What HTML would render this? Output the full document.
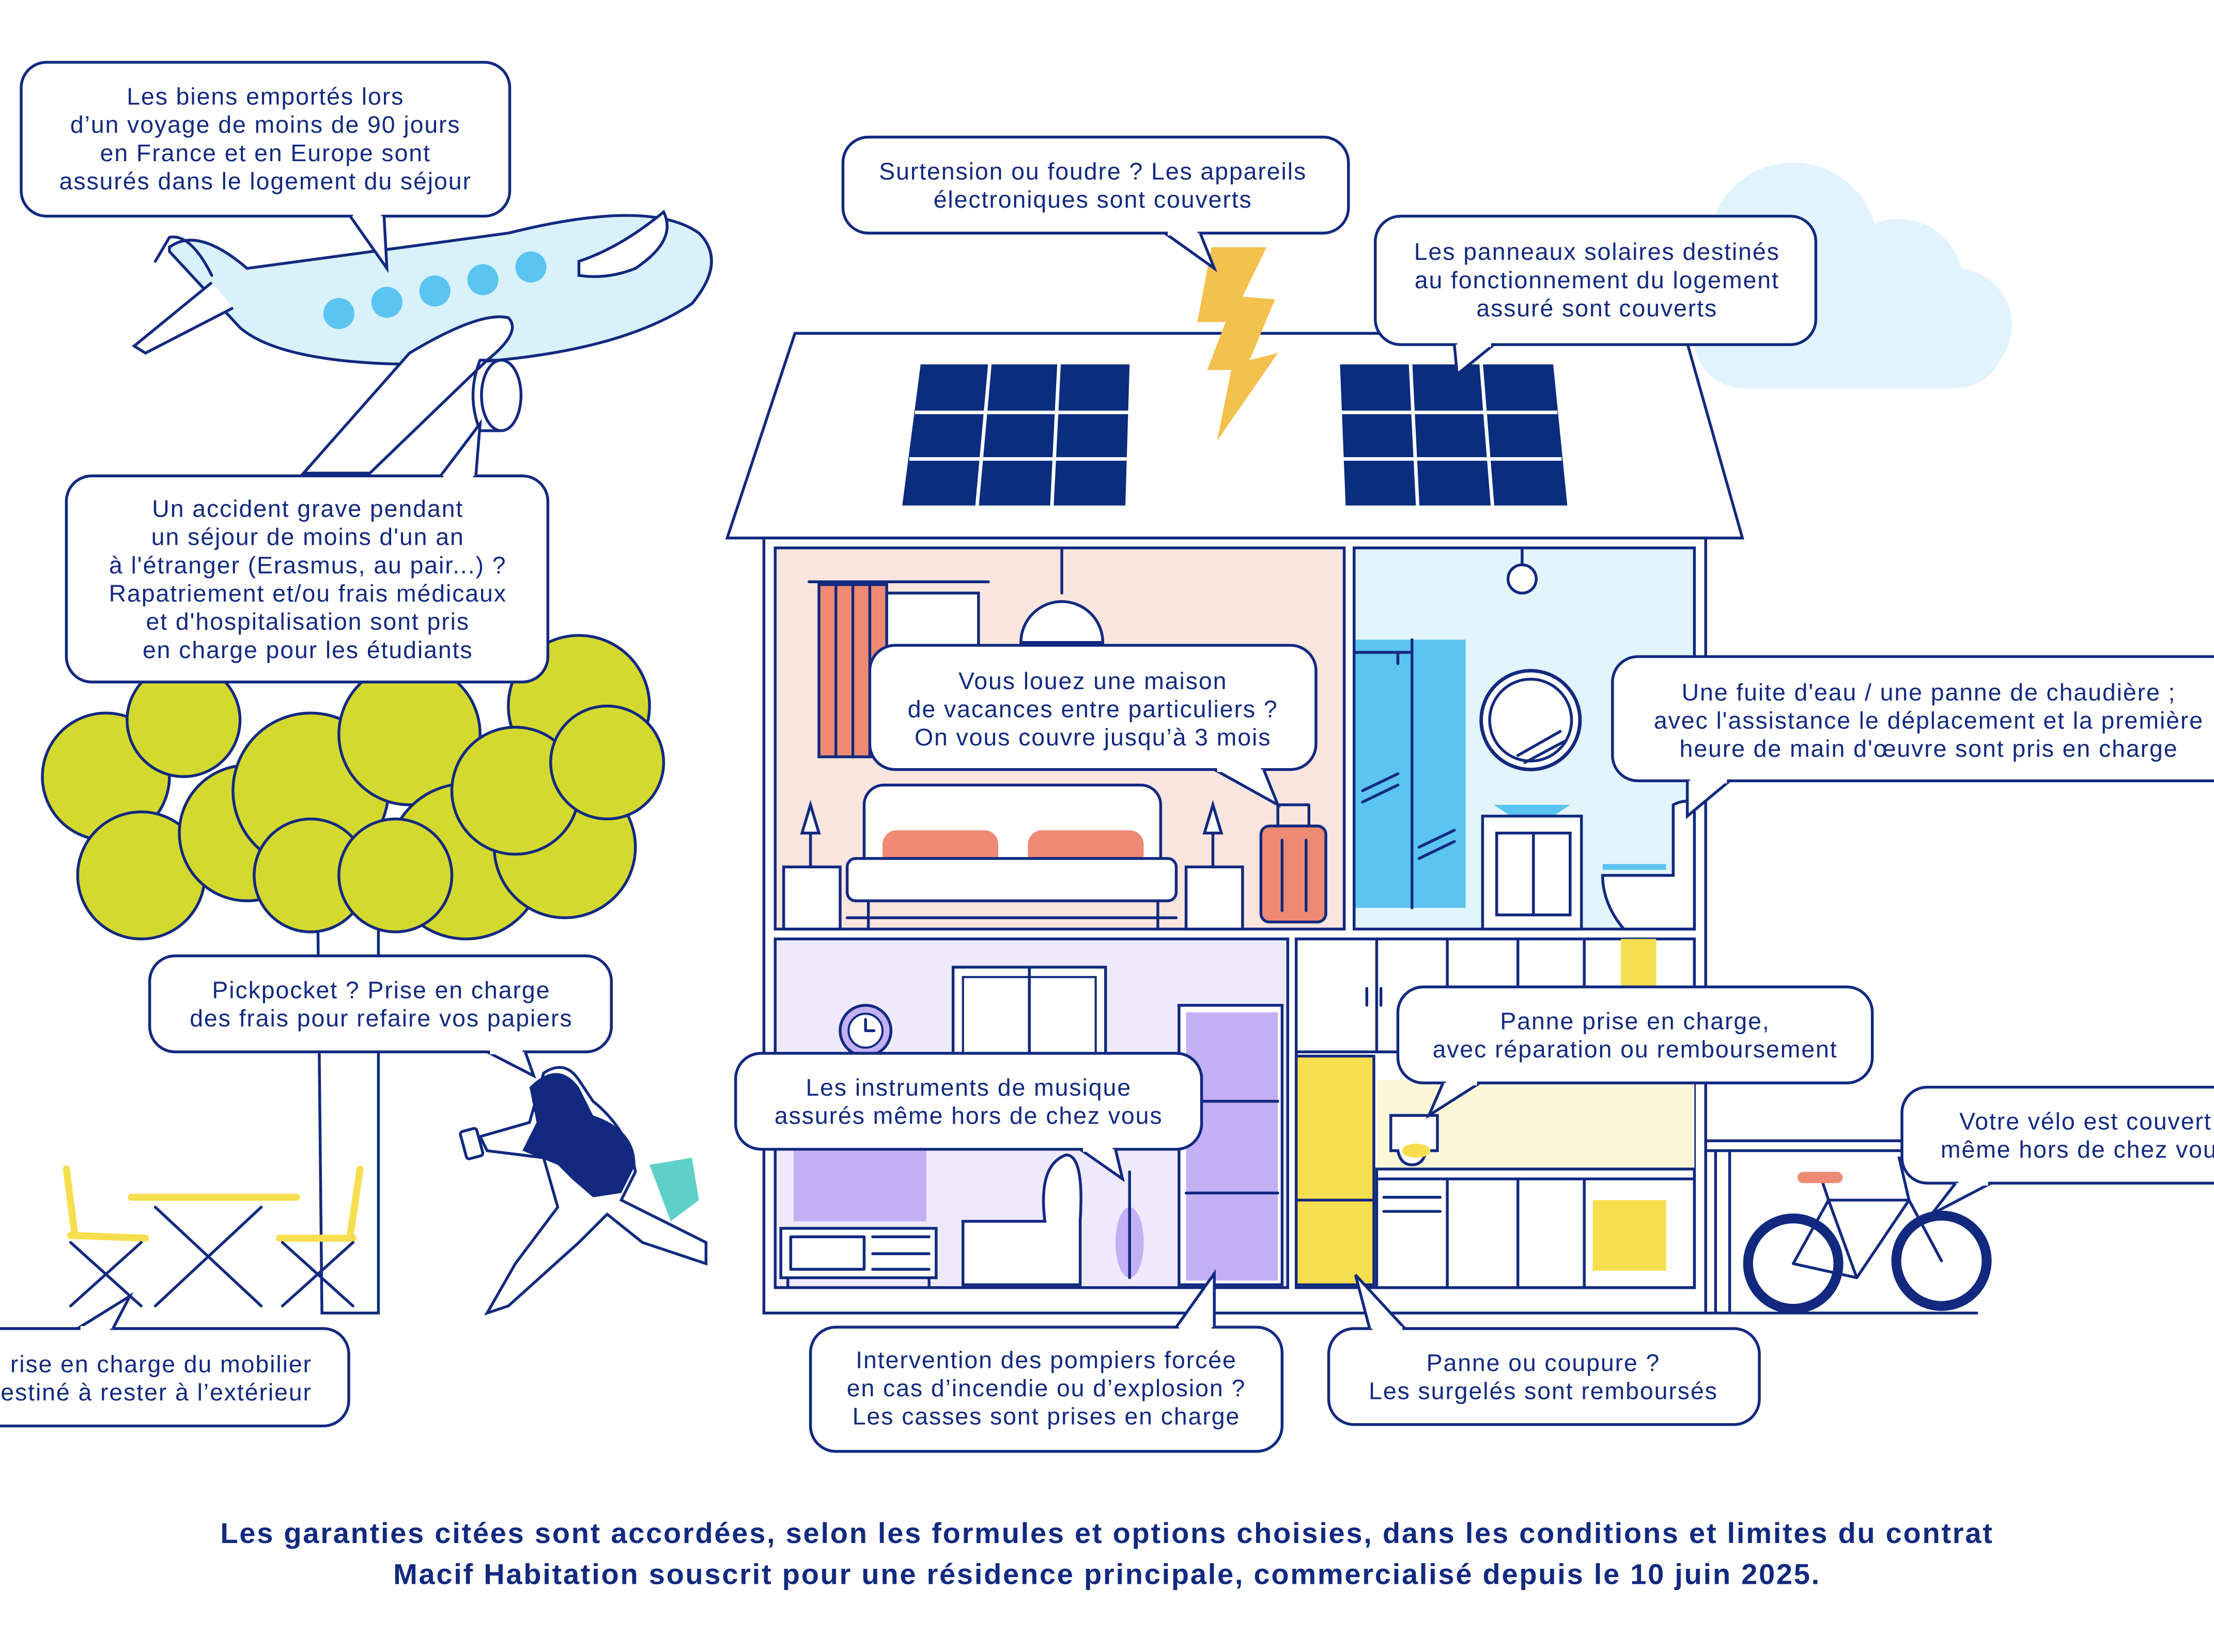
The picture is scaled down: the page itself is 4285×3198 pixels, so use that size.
<!DOCTYPE html>
<html><head><meta charset="utf-8"><style>
html,body{margin:0;padding:0;background:#fff;overflow:hidden}
svg{display:block}
text{font-family:"Liberation Sans",sans-serif;fill:#12297f;font-size:17px;letter-spacing:0.7px}
.b{fill:#fff;stroke:#12297f;stroke-width:2}
.s{fill:none;stroke:#12297f;stroke-width:2;stroke-linejoin:round;stroke-linecap:round}
.w{stroke:#fff;stroke-width:3.5}
</style></head><body>
<svg width="4285" height="3198" viewBox="0 0 1568 1170" xmlns="http://www.w3.org/2000/svg">
<rect width="1568" height="1170" fill="#fff"/>

<g fill="#e1f3fc">
<circle cx="1270" cy="175" r="60"/><circle cx="1345" cy="200" r="45"/><circle cx="1385" cy="230" r="40"/>
<circle cx="1240" cy="235" r="40"/><rect x="1200" y="200" width="220" height="75" rx="35"/>
</g>

<g>
<path d="M120,175 Q140,160 175,190 L360,165 Q460,140 495,165 Q515,185 490,215 Q430,255 300,258 Q200,258 170,232 L120,178 Z" fill="#d9f1fb" stroke="#12297f" stroke-width="2"/>
<path d="M110,185 L120,168 Q135,165 150,195" class="s"/>
<path d="M150,200 L95,245 L103,250 L165,218" fill="#fff" stroke="#12297f" stroke-width="2"/>
<path d="M410,185 Q440,175 470,150 Q480,170 450,190 Q430,198 410,195Z" fill="#fff" stroke="#12297f" stroke-width="2"/>
<path d="M290,250 L215,335 L262,335 L345,255 Q370,235 360,225 Q340,220 290,250Z" fill="#fff" stroke="#12297f" stroke-width="2"/>
<ellipse cx="355" cy="280" rx="14" ry="25" fill="#fff" stroke="#12297f" stroke-width="2"/>
<path d="M355,255 L340,255 Q330,280 340,305 L355,305" class="s"/>
<g fill="#5bc4f1"><circle cx="240" cy="222" r="11"/><circle cx="274" cy="214" r="11"/><circle cx="308" cy="206" r="11"/><circle cx="342" cy="198" r="11"/><circle cx="376" cy="189" r="11"/></g>
</g>

<rect class="b" x="15" y="44" width="346" height="109" rx="18"/>
<path class="b" d="M248,153 L274,190 L272,153"/><line class="w" x1="250" y1="153" x2="270" y2="153"/>
<text text-anchor="middle"><tspan x="188" y="74">Les biens emportés lors</tspan><tspan x="188" y="94">d’un voyage de moins de 90 jours</tspan><tspan x="188" y="114">en France et en Europe sont</tspan><tspan x="188" y="134">assurés dans le logement du séjour</tspan></text>

<path d="M225,640 L228,930 L268,930 L268,640 L300,600 L270,600 L248,630 L215,600 L190,600Z" fill="#fff" stroke="#12297f" stroke-width="2"/>
<g fill="#d4d92f" stroke="#12297f" stroke-width="2">
<circle cx="75" cy="550" r="45"/><circle cx="130" cy="510" r="40"/><circle cx="100" cy="620" r="45"/><circle cx="175" cy="590" r="48"/>
<circle cx="220" cy="560" r="55"/><circle cx="290" cy="520" r="50"/><circle cx="330" cy="610" r="55"/><circle cx="400" cy="600" r="50"/>
<circle cx="410" cy="500" r="50"/><circle cx="365" cy="560" r="45"/><circle cx="220" cy="620" r="40"/><circle cx="280" cy="620" r="40"/>
<circle cx="430" cy="540" r="40"/>
</g>

<rect class="b" x="47" y="337" width="341" height="146" rx="18"/>
<path class="b" d="M312,337 L340,300 L337,337"/><line class="w" x1="314" y1="337" x2="335" y2="337"/>
<text text-anchor="middle"><tspan x="218" y="366">Un accident grave pendant</tspan><tspan x="218" y="386">un séjour de moins d'un an</tspan><tspan x="218" y="406">à l'étranger (Erasmus, au pair...) ?</tspan><tspan x="218" y="426">Rapatriement et/ou frais médicaux</tspan><tspan x="218" y="446">et d'hospitalisation sont pris</tspan><tspan x="218" y="466">en charge pour les étudiants</tspan></text>

<g stroke="#f6df4f" stroke-width="5" stroke-linecap="round"><line x1="47" y1="828" x2="53" y2="875"/><line x1="50" y1="875" x2="103" y2="877"/><line x1="93" y1="848" x2="210" y2="848"/><line x1="255" y1="828" x2="248" y2="875"/><line x1="198" y1="877" x2="250" y2="877"/></g>
<g class="s"><path d="M50,880 L100,925 M100,880 L50,925 M110,855 L185,925 M185,855 L110,925 M200,880 L250,925 M250,880 L200,925"/></g>

<rect class="b" x="-40" y="941" width="287" height="69" rx="18"/>
<path class="b" d="M55,941 L92,918 L80,941"/><line class="w" x1="57" y1="941" x2="78" y2="941"/>
<text text-anchor="end"><tspan x="221" y="972">rise en charge du mobilier</tspan><tspan x="221" y="992">estiné à rester à l’extérieur</tspan></text>

<g>
<path d="M385,760 Q400,750 410,765 L420,780 Q445,800 450,830 L440,850 L460,860 L500,880 L500,895 L455,880 L430,860 L410,880 L360,925 L345,930 L365,895 L395,855 L385,820 L345,815 L340,805 L375,795Z" fill="#fff" stroke="#12297f" stroke-width="2"/>
<path d="M375,770 Q395,750 410,770 L420,790 Q450,800 450,825 L440,845 L420,848 L405,835 L395,825 L370,815 L380,795Z" fill="#12297f"/>
<path d="M460,825 L490,820 L495,850 L475,865Z" fill="#5fd0c8"/>
<rect x="328" y="800" width="12" height="20" rx="2" fill="#fff" stroke="#12297f" stroke-width="2" transform="rotate(-15 334 810)"/>
</g>

<rect class="b" x="106" y="677" width="327" height="68" rx="18"/>
<path class="b" d="M345,745 L378,762 L372,745"/><line class="w" x1="347" y1="745" x2="370" y2="745"/>
<text text-anchor="middle"><tspan x="270" y="707">Pickpocket ? Prise en charge</tspan><tspan x="270" y="727">des frais pour refaire vos papiers</tspan></text>

<polygon points="515,381 563,236 1193,236 1234,381" fill="#fff" stroke="#12297f" stroke-width="2"/>
<g fill="#0b2d7e">
<polygon points="652,258 800,258 797,358 639,358"/>
<polygon points="949,258 1100,258 1110,358 953,358"/>
</g>
<g stroke="#fff" stroke-width="2.5">
<line x1="648" y1="292" x2="799" y2="292"/><line x1="644" y1="325" x2="798" y2="325"/>
<line x1="701" y1="258" x2="692" y2="358"/><line x1="750" y1="258" x2="745" y2="358"/>
<line x1="950" y1="292" x2="1103" y2="292"/><line x1="951" y1="325" x2="1106" y2="325"/>
<line x1="999" y1="258" x2="1004" y2="358"/><line x1="1049" y1="258" x2="1057" y2="358"/>
</g>
<polygon points="858,175 897,175 880,210 903,212 885,255 905,250 862,312 872,262 855,262 868,228 848,228" fill="#f2c14e"/>

<rect class="b" x="597" y="97" width="358" height="68" rx="18"/>
<path class="b" d="M825,165 L860,190 L850,165"/><line class="w" x1="827" y1="165" x2="848" y2="165"/>
<text text-anchor="middle"><tspan x="774" y="127">Surtension ou foudre ? Les appareils</tspan><tspan x="774" y="147">électroniques sont couverts</tspan></text>

<rect class="b" x="974" y="153" width="312" height="91" rx="18"/>
<path class="b" d="M1030,244 L1032,265 L1058,244"/><line class="w" x1="1032" y1="244" x2="1056" y2="244"/>
<text text-anchor="middle"><tspan x="1131" y="184">Les panneaux solaires destinés</tspan><tspan x="1131" y="204">au fonctionnement du logement</tspan><tspan x="1131" y="224">assuré sont couverts</tspan></text>

<rect x="541" y="381" width="667" height="549" fill="#fff" stroke="#12297f" stroke-width="2"/>
<rect x="549" y="388" width="403" height="270" fill="#fbe5df" stroke="#12297f" stroke-width="2"/>
<rect x="959" y="388" width="241" height="270" fill="#e2f4fc" stroke="#12297f" stroke-width="2"/>
<rect x="549" y="665" width="363" height="247" fill="#efeafb" stroke="#12297f" stroke-width="2"/>
<rect x="918" y="665" width="282" height="247" fill="#fff" stroke="#12297f" stroke-width="2"/>
<path d="M1208,808 L1400,808 M1208,815 L1400,815 M1215,815 L1215,930 M1225,815 L1225,930 M1208,930 L1400,930" class="s"/>

<line x1="573" y1="412" x2="700" y2="412" class="s"/>
<rect x="580" y="414" width="48" height="122" fill="#ee8a74" stroke="#12297f" stroke-width="2"/>
<path d="M592,414 V536 M604,414 V536 M616,414 V536" class="s"/>
<rect x="628" y="420" width="65" height="40" fill="#fff" stroke="#12297f" stroke-width="2"/>
<line x1="752" y1="388" x2="752" y2="420" class="s"/>
<path d="M723,455 A29,29 0 0 1 781,455 Z" fill="#fff" stroke="#12297f" stroke-width="2"/>
<rect x="612" y="556" width="210" height="80" rx="14" fill="#fff" stroke="#12297f" stroke-width="2"/>
<rect x="625" y="588" width="82" height="27" rx="10" fill="#ee8a74"/>
<rect x="728" y="588" width="82" height="27" rx="10" fill="#ee8a74"/>
<rect x="600" y="608" width="233" height="30" rx="6" fill="#fff" stroke="#12297f" stroke-width="2"/>
<line x1="600" y1="650" x2="833" y2="650" class="s"/>
<line x1="615" y1="638" x2="615" y2="658" class="s"/><line x1="820" y1="638" x2="820" y2="658" class="s"/>
<rect x="555" y="614" width="40" height="44" fill="#fff" stroke="#12297f" stroke-width="2"/>
<rect x="840" y="614" width="40" height="44" fill="#fff" stroke="#12297f" stroke-width="2"/>
<path d="M568,590 L574,570 L580,590Z M574,590 V614 M853,590 L859,570 L865,590Z M859,590 V614" fill="#fff" stroke="#12297f" stroke-width="2"/>
<rect x="893" y="585" width="46" height="68" rx="6" fill="#ee8a74" stroke="#12297f" stroke-width="2"/>
<path d="M905,585 V570 H927 V585 M908,595 V645 M925,595 V645" class="s"/>

<rect class="b" x="616" y="457" width="316" height="88" rx="18"/>
<path class="b" d="M860,545 L905,570 L895,545"/><line class="w" x1="862" y1="545" x2="893" y2="545"/>
<text text-anchor="middle"><tspan x="774" y="488">Vous louez une maison</tspan><tspan x="774" y="508">de vacances entre particuliers ?</tspan><tspan x="774" y="528">On vous couvre jusqu’à 3 mois</tspan></text>

<line x1="1078" y1="388" x2="1078" y2="400" class="s"/><circle cx="1078" cy="410" r="10" fill="#fff" stroke="#12297f" stroke-width="2"/>
<rect x="960" y="453" width="78" height="190" fill="#5bc4f1"/>
<path d="M960,462 H1000 M990,462 V470 M965,560 L990,548 M965,568 L990,556 M1005,600 L1030,588 M1005,608 L1030,596 M1000,453 V643" class="s"/>
<circle cx="1084" cy="510" r="35" fill="#fff" stroke="#12297f" stroke-width="2.5"/><circle cx="1084" cy="510" r="29" fill="none" stroke="#12297f" stroke-width="2"/>
<path d="M1075,535 L1105,518 M1080,540 L1108,525" class="s"/>
<path d="M1058,570 H1112 L1100,578 H1070Z" fill="#5bc4f1"/>
<rect x="1050" y="578" width="70" height="80" fill="#fff" stroke="#12297f" stroke-width="2"/>
<rect x="1060" y="590" width="52" height="58" fill="none" stroke="#12297f" stroke-width="2"/><line x1="1086" y1="590" x2="1086" y2="648" class="s"/>
<path d="M1135,620 H1185 V570 Q1195,565 1200,570 V658 H1150 Q1135,640 1135,620Z" fill="#fff" stroke="#12297f" stroke-width="2"/>
<line x1="1135" y1="614" x2="1180" y2="614" stroke="#5bc4f1" stroke-width="4"/>

<rect class="b" x="1142" y="465" width="460" height="88" rx="18"/>
<path class="b" d="M1195,553 L1195,578 L1225,553"/><line class="w" x1="1197" y1="553" x2="1223" y2="553"/>
<text text-anchor="middle"><tspan x="1366" y="496">Une fuite d'eau / une panne de chaudière ;</tspan><tspan x="1366" y="516">avec l'assistance le déplacement et la première</tspan><tspan x="1366" y="536">heure de main d'œuvre sont pris en charge</tspan></text>

<rect x="675" y="685" width="108" height="62" fill="#fff" stroke="#12297f" stroke-width="2"/><line x1="729" y1="685" x2="729" y2="747" class="s"/>
<rect x="682" y="692" width="94" height="55" fill="none" stroke="#12297f" stroke-width="1.5"/>
<circle cx="613" cy="730" r="18" fill="#c4b0f5" stroke="#12297f" stroke-width="2"/><circle cx="613" cy="730" r="12" fill="#fff" stroke="#12297f" stroke-width="1.5"/><path d="M613,722 V730 H619" class="s"/>
<rect x="835" y="712" width="73" height="198" fill="#fff" stroke="#12297f" stroke-width="2"/>
<rect x="840" y="717" width="65" height="190" fill="#c4b0f5"/>
<path d="M840,780 H905 M840,845 H905" class="s"/>
<rect x="562" y="815" width="94" height="50" fill="#c4b0f5"/>
<rect x="553" y="870" width="110" height="35" fill="#fff" stroke="#12297f" stroke-width="2"/>
<path d="M560,876 H612 V899 H560Z M618,876 H658 M618,888 H658 M618,899 H658 M558,905 V912 M658,905 V912" class="s"/>
<path d="M682,865 H740 Q735,825 755,818 Q768,818 765,865 V910 H682Z" fill="#fff" stroke="#12297f" stroke-width="2"/>
<ellipse cx="800" cy="880" rx="10" ry="25" fill="#c4b0f5"/><path d="M800,830 V905" class="s"/>

<rect class="b" x="521" y="746" width="330" height="68" rx="18"/>
<path class="b" d="M765,814 L795,835 L790,814"/><line class="w" x1="767" y1="814" x2="788" y2="814"/>
<text text-anchor="middle"><tspan x="686" y="776">Les instruments de musique</tspan><tspan x="686" y="796">assurés même hors de chez vous</tspan></text>

<rect x="975" y="765" width="225" height="63" fill="#fdf7da"/>
<rect x="1148" y="665" width="25" height="35" fill="#f6df4f"/>
<path d="M918,745 H1200 M975,665 V745 M1025,665 V700 M1075,665 V700 M1122,665 V700 M1025,700 H1200 M968,700 V712 M978,700 V712" class="s"/>
<rect x="918" y="748" width="55" height="162" fill="#f6df4f" stroke="#12297f" stroke-width="2"/><line x1="918" y1="850" x2="973" y2="850" class="s"/>
<rect x="975" y="828" width="225" height="84" fill="#fff" stroke="#12297f" stroke-width="2"/>
<path d="M975,835 H1200 M1025,835 V912 M1075,835 V912 M980,848 H1020 M980,858 H1020 M1122,835 V912" class="s"/>
<rect x="1128" y="850" width="52" height="50" fill="#f6df4f"/>
<path d="M985,790 H1018 V815 H1010 Q1008,825 1000,825 Q992,825 990,815 H985Z" fill="#fff" stroke="#12297f" stroke-width="2"/>
<ellipse cx="1003" cy="815" rx="10" ry="5" fill="#f6df4f"/>

<rect class="b" x="990" y="699" width="336" height="68" rx="18"/>
<path class="b" d="M1022,767 L1012,790 L1048,767"/><line class="w" x1="1024" y1="767" x2="1046" y2="767"/>
<text text-anchor="middle"><tspan x="1158" y="729">Panne prise en charge,</tspan><tspan x="1158" y="749">avec réparation ou remboursement</tspan></text>

<circle cx="1270" cy="895" r="32" fill="none" stroke="#12297f" stroke-width="7"/>
<circle cx="1375" cy="893" r="32" fill="none" stroke="#12297f" stroke-width="7"/>
<path d="M1270,895 L1315,905 L1352,850 L1295,850 L1315,905 M1295,850 L1270,895 M1352,850 L1375,893 M1290,835 L1295,850 M1352,850 L1345,820" class="s"/>
<rect x="1273" y="830" width="32" height="8" rx="4" fill="#ee8a74"/>

<rect class="b" x="1347" y="770" width="260" height="68" rx="18"/>
<path class="b" d="M1385,838 L1368,860 L1410,838"/><line class="w" x1="1387" y1="838" x2="1408" y2="838"/>
<text text-anchor="middle"><tspan x="1477" y="800">Votre vélo est couvert</tspan><tspan x="1477" y="820">même hors de chez vous</tspan></text>

<rect class="b" x="574" y="940" width="334" height="88" rx="18"/>
<path class="b" d="M833,940 L860,902 L860,940"/><line class="w" x1="835" y1="940" x2="858" y2="940"/>
<text text-anchor="middle"><tspan x="741" y="969">Intervention des pompiers forcée</tspan><tspan x="741" y="989">en cas d’incendie ou d’explosion ?</tspan><tspan x="741" y="1009">Les casses sont prises en charge</tspan></text>

<rect class="b" x="941" y="941" width="305" height="68" rx="18"/>
<path class="b" d="M970,941 L960,903 L995,941"/><line class="w" x1="972" y1="941" x2="993" y2="941"/>
<text text-anchor="middle"><tspan x="1093" y="971">Panne ou coupure ?</tspan><tspan x="1093" y="991">Les surgelés sont remboursés</tspan></text>

<text text-anchor="middle" style="font-size:20.5px;font-weight:bold;letter-spacing:1px"><tspan x="784" y="1093">Les garanties citées sont accordées, selon les formules et options choisies, dans les conditions et limites du contrat</tspan><tspan x="784" y="1122">Macif Habitation souscrit pour une résidence principale, commercialisé depuis le 10 juin 2025.</tspan></text>
</svg>
</body></html>
